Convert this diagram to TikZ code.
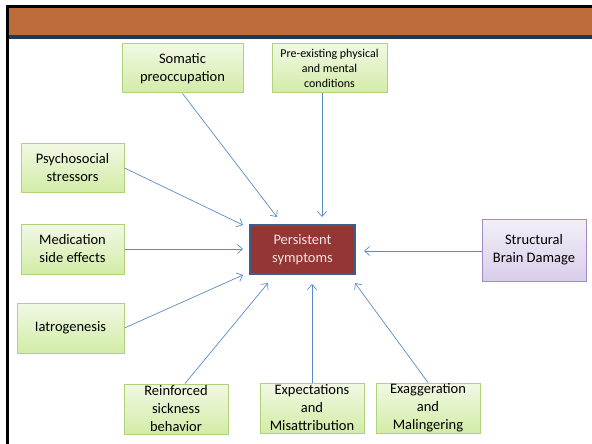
\documentclass[tikz,border=0pt]{standalone}
\usepackage{fontspec}
\setmainfont{Carlito}
\usetikzlibrary{arrows.meta,calc}
\definecolor{hdr}{HTML}{BE6D3A}
\definecolor{hdrline}{HTML}{1E3A56}
\definecolor{gtop}{HTML}{F1F8E5}
\definecolor{gbot}{HTML}{D3ECA6}
\definecolor{gedge}{HTML}{B0D27A}
\definecolor{ptop}{HTML}{F3EFF8}
\definecolor{pbot}{HTML}{D9CDEA}
\definecolor{pedge}{HTML}{A08BC5}
\definecolor{redfill}{HTML}{943634}
\definecolor{rededge}{HTML}{3A5F8E}
\definecolor{redtext}{HTML}{F4E2E1}
\definecolor{arr}{HTML}{5B8BC6}
\tikzset{
  gbox/.style={draw=gedge, line width=1pt, top color=gtop, bottom color=gbot, align=center, inner sep=0pt, font=\fontsize{14.5}{18}\selectfont},
  pbox/.style={draw=pedge, line width=1pt, top color=ptop, bottom color=pbot, align=center, inner sep=0pt, font=\fontsize{14.5}{18}\selectfont},
  rbox/.style={draw=rededge, line width=1.8pt, fill=redfill, text=redtext, align=center, inner sep=0pt, font=\fontsize{14.5}{18}\selectfont},
  conn/.style={draw=arr, line width=0.7pt, -{Straight Barb[length=5pt,width=9pt]}}
}
\begin{document}
\begin{tikzpicture}[x=1pt,y=-1pt]
\useasboundingbox (0,0) rectangle (592,444);
% frame and header
\fill[hdr] (8,7) rectangle (592,35);
\fill[hdrline] (8,35) rectangle (592,39.5);
\fill[black] (6,5) rectangle (592,8);
\fill[black] (6.3,5) rectangle (8.7,444);
% nodes
\node[gbox, minimum width=121pt, minimum height=49pt] (som) at (182.5,68.5) {Somatic\\preoccupation};
\node[gbox, minimum width=115pt, minimum height=49pt, font=\fontsize{12}{15}\selectfont] (pre) at (329.5,68.5) {Pre-existing physical\\and mental\\conditions};
\node[gbox, minimum width=103pt, minimum height=49pt] (psy) at (72.5,167.5) {Psychosocial\\stressors};
\node[gbox, minimum width=103pt, minimum height=50pt] (med) at (72.5,249) {Medication\\side effects};
\node[gbox, minimum width=107pt, minimum height=50pt] (iat) at (70.5,328) {Iatrogenesis};
\node[gbox, minimum width=104pt, minimum height=50pt] (rei) at (176,409) {Reinforced\\sickness\\behavior};
\node[gbox, minimum width=104pt, minimum height=50pt] (exp) at (312,408) {Expectations\\and\\Misattribution};
\node[gbox, minimum width=104pt, minimum height=50pt] (exa) at (428,408) {Exaggeration\\and\\Malingering};
\node[pbox, minimum width=104pt, minimum height=62pt] (str) at (534,250) {Structural\\Brain Damage};
\node[rbox, minimum width=105pt, minimum height=49pt] (per) at (302.5,249.5) {Persistent\\symptoms};
% arrow tips
\coordinate (tsom) at (277,217);
\coordinate (tpre) at (322,217);
\coordinate (tpsy) at (243,225);
\coordinate (tmed) at (243,249);
\coordinate (tiat) at (243,275);
\coordinate (trei) at (268,283);
\coordinate (texp) at (312,284);
\coordinate (texa) at (355,283);
\coordinate (tstr) at (364,251);
% connectors
\draw[conn] (som.south) -- (tsom);
\draw[conn] (pre.south -| tpre) -- (tpre);
\draw[conn] ($(psy.east)+(0,0.5)$) -- (tpsy);
\draw[conn] (med.east) -- (tmed);
\draw[conn] (iat.east) -- (tiat);
\draw[conn] ($(rei.north)+(9,0)$) -- (trei);
\draw[conn] (exp.north) -- (texp);
\draw[conn] (exa.north) -- (texa);
\draw[conn] (str.west |- tstr) -- (tstr);
\end{tikzpicture}
\end{document}
